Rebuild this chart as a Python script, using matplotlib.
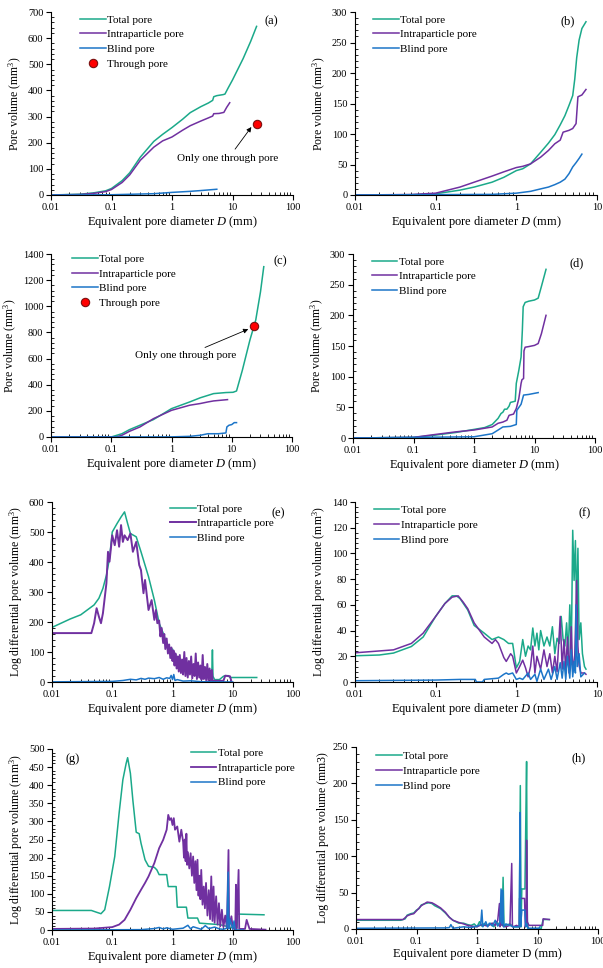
import matplotlib
matplotlib.use('Agg')
import matplotlib.pyplot as plt
from matplotlib.ticker import LogLocator, AutoMinorLocator, FuncFormatter, NullFormatter, MultipleLocator

plt.rcParams['font.family'] = ['Liberation Serif', 'DejaVu Serif']
plt.rcParams['mathtext.fontset'] = 'custom'
plt.rcParams['mathtext.rm'] = 'Liberation Serif'
plt.rcParams['mathtext.it'] = 'Liberation Serif:italic'

# colours of the three pore classes
c_total = '#1BA98A'
c_intra = '#7030A0'
c_blind = '#1C75C8'

# ---------------- (a) ----------------
a_d_total = [0.01, 0.03, 0.05, 0.08, 0.1, 0.15, 0.2, 0.3, 0.5, 0.7, 1.0, 1.5, 2.0, 3.0, 4.0, 4.7, 4.9, 5.5, 7.0, 7.5, 8.5, 10, 15, 20, 25]
a_total = [0, 3, 8, 16, 25, 55, 85, 145, 205, 232, 258, 290, 315, 338, 352, 362, 376, 380, 384, 386, 410, 440, 522, 588, 645]
a_d_intra = [0.01, 0.03, 0.05, 0.08, 0.1, 0.15, 0.2, 0.3, 0.5, 0.7, 1.0, 1.5, 2.0, 3.0, 4.0, 4.7, 4.9, 6.0, 7.2, 8.0, 9.0]
a_intra = [0, 2, 6, 13, 21, 48, 77, 133, 183, 207, 222, 248, 265, 283, 295, 302, 311, 312, 316, 335, 353]
a_d_blind = [0.01, 0.1, 0.5, 1.0, 2.0, 3.0, 5.5]
a_blind = [0, 1, 5, 10, 14, 17, 22]
a_d_through = [25]
a_through = [270]

# ---------------- (b) ----------------
b_d_total = [0.01, 0.05, 0.1, 0.2, 0.3, 0.5, 0.7, 1.0, 1.2, 1.5, 2.0, 2.5, 3.0, 3.5, 4.0, 4.5, 5.0, 5.3, 5.6, 6.0, 6.5, 7.3]
b_total = [0, 0.5, 2, 8, 13, 21, 29, 40, 43, 51, 70, 85, 99, 115, 130, 147, 163, 190, 225, 254, 273, 284]
b_d_intra = [0.01, 0.05, 0.1, 0.2, 0.3, 0.5, 0.7, 1.0, 1.2, 1.5, 2.0, 2.5, 3.0, 3.5, 3.8, 4.5, 5.0, 5.5, 5.8, 6.5, 7.3]
b_intra = [0, 0.8, 3, 13, 21, 31, 38, 45, 47, 51, 62, 73, 84, 90, 103, 106, 109, 117, 161, 164, 173]
b_d_blind = [0.01, 0.5, 1.0, 1.5, 2.0, 2.5, 3.0, 3.5, 4.0, 4.5, 5.0, 5.5, 6.0, 6.5]
b_blind = [0, 1, 3, 6, 10, 13, 17, 21, 26, 35, 46, 53, 60, 67]

# ---------------- (c) ----------------
c_d_total = [0.01, 0.1, 0.15, 0.2, 0.3, 0.5, 1.0, 2.0, 3.0, 5.0, 8.0, 10.5, 12, 15, 20, 25, 30, 34]
c_total_v = [0, 0, 25, 56, 90, 133, 217, 268, 300, 332, 340, 342, 352, 511, 741, 894, 1111, 1303]
c_d_intra = [0.01, 0.12, 0.15, 0.2, 0.3, 0.5, 1.0, 2.0, 3.0, 4.0, 5.0, 8.5]
c_intra_v = [0, 0, 13, 43, 77, 140, 204, 243, 256, 268, 276, 286]
c_d_blind = [0.01, 1.0, 2.0, 3.0, 4.0, 6.0, 8.0, 8.3, 9.0, 10.0, 11.0, 12.0]
c_blind_v = [0, 1, 5, 13, 25, 25, 31, 77, 90, 95, 110, 110]
c_d_through = [23.3]
c_through = [848]

# ---------------- (d) ----------------
d_d_total = [0.01, 0.1, 0.2, 0.5, 1.0, 1.5, 2.0, 2.5, 2.8, 3.0, 3.2, 3.5, 3.8, 4.0, 4.8, 5.0, 5.5, 6.0, 6.3, 6.5, 7.0, 8.0, 10, 11.5, 13, 15.5]
d_total = [0, 1, 4, 9, 14, 17, 22, 32, 40, 42, 47, 47, 52, 58, 60, 89, 110, 132, 176, 214, 221, 223, 225, 228, 247, 275]
d_d_intra = [0.01, 0.1, 0.2, 0.5, 1.0, 2.0, 2.5, 3.0, 3.5, 3.8, 4.5, 5.0, 5.5, 6.0, 6.2, 6.6, 6.7, 7.0, 8.0, 10, 11.5, 13, 15.5]
d_intra = [0, 1, 5, 10, 13, 18, 24, 26, 29, 37, 39, 48, 64, 89, 95, 97, 142, 148, 149, 151, 154, 170, 200]
d_d_blind = [0.01, 1.0, 2.0, 2.5, 3.0, 4.0, 5.0, 5.1, 6.0, 6.6, 8.0, 11.5]
d_blind = [0, 2, 7, 13, 18, 19, 22, 45, 55, 70, 71, 74]

# ---------------- (e) ----------------
e_d_total = [0.01, 0.02, 0.03, 0.05, 0.06, 0.07, 0.08, 0.09, 0.1, 0.12, 0.14, 0.16, 0.18, 0.2, 0.25, 0.3, 0.4, 0.5, 0.6, 0.7,
             0.8, 0.9, 0.95, 1.0, 1.05, 1.1, 1.2, 1.5, 2.0, 3.0, 4.0, 4.5, 4.6, 4.7, 5.0, 6.0, 7.0, 7.5, 8.5, 9.0, 25]
e_total = [182, 210, 224, 257, 279, 312, 356, 412, 500, 528, 550, 567, 528, 495, 484, 434, 351, 273, 196, 163,
           130, 115, 95, 110, 80, 95, 74, 58, 41, 30, 19, 35, 107, 19, 8, 8, 19, 21, 21, 15, 15]
e_d_intra = [0.01, 0.045, 0.05, 0.055, 0.06, 0.065, 0.07, 0.08, 0.085, 0.09, 0.1, 0.11, 0.12, 0.13, 0.14, 0.15, 0.16, 0.18, 0.2, 0.22,
             0.25, 0.28, 0.3, 0.33, 0.35, 0.4, 0.45, 0.5, 0.53, 0.56, 0.6, 0.63, 0.66, 0.7, 0.73, 0.76, 0.8, 0.84, 0.88, 0.92,
             0.96, 1.0, 1.04, 1.08, 1.12, 1.17, 1.22, 1.27, 1.32, 1.38, 1.44, 1.5, 1.57, 1.64, 1.71, 1.79, 1.87, 1.95, 2.04, 2.13,
             2.23, 2.33, 2.43, 2.54, 2.66, 2.78, 2.9, 3.03, 3.17, 3.31, 3.46, 3.62, 3.78, 3.95, 4.13, 4.32, 4.5, 4.65, 5.0, 7.0,
             7.5, 9.0, 9.5]
e_intra = [163, 163, 196, 246, 218, 196, 229, 329, 434, 401, 489, 456, 506, 451, 523, 467, 489, 473, 495, 434,
           467, 390, 373, 296, 340, 240, 273, 207, 240, 196, 205, 152, 180, 130, 160, 110, 145, 95, 125, 80,
           115, 70, 105, 55, 95, 45, 85, 35, 90, 30, 75, 25, 100, 20, 80, 15, 70, 25, 85, 12,
           60, 20, 95, 10, 65, 15, 55, 8, 90, 10, 50, 6, 60, 5, 45, 4, 40, 3, 4, 4,
           21, 19, 2]
e_d_blind = [0.01, 0.1, 0.15, 0.2, 0.25, 0.3, 0.35, 0.4, 0.5, 0.6, 0.7, 0.8, 0.9, 0.95, 1.0, 1.05, 1.1, 1.2, 1.5, 2.0, 3.0, 5.0, 10]
e_blind = [0.5, 2, 5, 9, 7, 12, 9, 13, 11, 15, 9, 14, 12, 22, 8, 25, 5, 8, 3, 4, 1, 0.5, 0]

# ---------------- (f) ----------------
f_d_total = [0.01, 0.02, 0.03, 0.05, 0.07, 0.1, 0.13, 0.16, 0.18, 0.2, 0.25, 0.3, 0.4, 0.5, 0.6, 0.7, 0.8, 0.9, 1.0, 1.1,
             1.2, 1.3, 1.4, 1.5, 1.6, 1.7, 1.8, 1.9, 2.0, 2.2, 2.4, 2.6, 2.8, 3.0, 3.2, 3.4, 3.6, 3.8, 4.0, 4.2,
             4.4, 4.6, 4.8, 5.0, 5.2, 5.4, 5.6, 5.8, 6.0, 6.3, 6.6, 7.0, 7.3]
f_total = [20.4, 21, 22.5, 27.6, 35, 51, 61, 67, 67, 65, 56, 44, 38, 33, 35, 33, 30, 30, 11, 16,
           33, 20, 28, 25, 42, 28, 38, 25, 40, 28, 35, 28, 43, 22, 34, 30, 51, 33, 28, 46,
           22, 60, 22, 118, 79, 110, 53, 104, 33, 46, 22, 12, 10]
f_d_intra = [0.01, 0.03, 0.05, 0.07, 0.1, 0.13, 0.16, 0.19, 0.22, 0.25, 0.3, 0.4, 0.5, 0.55, 0.6, 0.7, 0.75, 0.85, 0.9, 1.0,
             1.1, 1.2, 1.3, 1.4, 1.5, 1.6, 1.7, 1.8, 2.0, 2.2, 2.4, 2.6, 2.8, 3.0, 3.2, 3.5, 3.7, 3.9, 4.1, 4.3,
             4.5, 4.8, 5.0, 5.3, 5.6, 5.8, 6.0, 6.3, 7.0, 7.3]
f_intra = [22.7, 25, 30, 38, 51, 61, 66, 67, 62, 57, 46, 35, 30, 33, 30, 19, 16, 22, 20, 7,
           12, 17, 11, 4, 12, 28, 7, 20, 10, 25, 12, 22, 7, 20, 8, 51, 10, 33, 8, 35,
           7, 43, 8, 21, 79, 28, 13, 7, 7, 6]
f_d_blind = [0.01, 0.1, 0.2, 0.31, 0.32, 0.38, 0.4, 0.6, 0.7, 0.75, 0.8, 0.9, 1.0, 1.1, 1.2, 1.4, 1.5, 1.7, 1.8, 2.0,
             2.2, 2.5, 2.7, 3.0, 3.2, 3.5, 3.7, 3.9, 4.1, 4.3, 4.6, 4.8, 5.0, 5.2, 5.4, 5.5, 5.7, 6.0, 6.3, 7.0]
f_blind = [1, 1.5, 2, 2, 0, 0, 2, 3, 6, 7, 6, 7, 2, 3, 2, 7, 2, 6, 0.5, 10,
           2, 10, 2, 12, 2, 15, 3, 16, 2, 20, 3, 25, 4, 16, 7, 60, 12, 22, 4, 7]

# ---------------- (g) ----------------
g_d_total = [0.01, 0.045, 0.055, 0.065, 0.075, 0.09, 0.11, 0.13, 0.15, 0.17, 0.18, 0.2, 0.22, 0.25, 0.28, 0.3, 0.35, 0.4, 0.5, 0.55,
             0.6, 0.8, 0.85, 1.15, 1.2, 1.7, 1.8, 2.6, 2.8, 4.0, 6.0, 8.0, 10, 11.8, 12, 33]
g_total = [54, 54, 49, 45, 56, 120, 203, 323, 415, 460, 476, 433, 358, 270, 266, 240, 194, 176, 173, 166,
           153, 153, 120, 120, 63, 63, 33, 33, 19, 17, 15, 10, 6, 6, 44, 42]
g_d_intra = [0.01, 0.05, 0.1, 0.13, 0.16, 0.2, 0.25, 0.3, 0.35, 0.4, 0.5, 0.6, 0.7, 0.8, 0.85, 0.9, 0.95, 1.0, 1.05, 1.1,
             1.2, 1.3, 1.4, 1.5, 1.55, 1.6, 1.65, 1.7, 1.75, 1.8, 1.9, 2.0, 2.1, 2.2, 2.3, 2.4, 2.5, 2.6, 2.7, 2.8,
             2.9, 3.0, 3.15, 3.3, 3.45, 3.6, 3.8, 4.0, 4.2, 4.4, 4.6, 4.8, 5.0, 5.3, 5.6, 5.9, 6.2, 6.6, 7.0, 7.5,
             8.0, 8.5, 8.7, 9.5, 10, 11, 11.3, 11.6, 12.5, 12.8, 16, 17, 18, 19, 35]
g_intra = [3, 4, 8, 15, 28, 56, 88, 111, 130, 148, 185, 226, 249, 277, 318, 304, 309, 290, 309, 277,
           286, 244, 277, 244, 200, 250, 190, 266, 180, 215, 170, 212, 150, 203, 130, 190, 110, 194, 95, 150,
           85, 166, 70, 120, 60, 130, 40, 110, 30, 148, 25, 120, 20, 93, 15, 74, 10, 56, 8, 40,
           5, 221, 6, 38, 6, 1, 125, 3, 166, 3, 3, 28, 15, 3, 1]
g_d_blind = [0.01, 0.3, 0.5, 0.6, 0.7, 0.8, 1.0, 1.5, 1.8, 2.0, 2.2, 3.0, 3.5, 4.0, 5.0, 6.0, 7.0, 8.0, 8.4, 8.6,
             9.0, 10, 10.5, 11, 12, 15]
g_blind = [0, 1, 4, 7, 3, 6, 2, 5, 13, 3, 9, 2, 12, 4, 8, 3, 2, 5, 160, 3,
           30, 2, 25, 1, 0, 0]

# ---------------- (h) ----------------
h_d_total = [0.01, 0.055, 0.065, 0.07, 0.08, 0.09, 0.1, 0.11, 0.12, 0.14, 0.16, 0.18, 0.2, 0.25, 0.3, 0.35, 0.4, 0.5, 0.6, 0.7,
             0.8, 0.9, 1.0, 1.1, 1.2, 1.3, 1.5, 1.7, 1.9, 2.1, 2.3, 2.5, 2.6, 2.7, 2.8, 3.0, 3.5, 4.0, 5.0, 5.2,
             5.35, 5.5, 6.2, 6.4, 6.6, 6.8, 7.0, 11.5, 12.0, 12.4, 15.7]
h_total = [12, 12, 14, 19, 21, 22, 26, 28, 33, 35, 36, 35, 32, 28, 22, 16, 12, 8, 8, 6,
           5, 7, 3, 10, 4, 7, 5, 8, 3, 10, 5, 16, 5, 71, 3, 5, 7, 3, 3, 197,
           3, 55, 55, 145, 230, 3, 0.5, 0.5, 8, 13, 13]
h_d_intra = [0.01, 0.06, 0.07, 0.08, 0.09, 0.1, 0.12, 0.15, 0.18, 0.2, 0.25, 0.3, 0.35, 0.4, 0.5, 0.6, 0.7, 0.8, 1.0, 1.2,
             1.5, 1.8, 2.0, 2.2, 2.35, 2.4, 2.5, 2.7, 3.0, 3.5, 3.75, 3.85, 3.95, 4.5, 5.0, 5.05, 5.3, 6.1, 6.3, 6.5,
             6.6, 6.8, 7.2, 12.2, 12.4, 15.7]
h_intra = [13, 13, 18, 20, 21, 25, 32, 37, 36, 34, 29, 23, 16, 12, 9, 7, 5, 4, 3, 6,
           4, 8, 5, 12, 35, 3, 8, 4, 3, 5, 90, 3, 3, 5, 3, 42, 42, 42, 3, 10,
           122, 10, 5, 5, 14, 13]
h_d_blind = [0.01, 0.3, 0.35, 0.37, 0.4, 0.6, 0.8, 1.0, 1.15, 1.2, 1.25, 1.4, 1.5, 1.6, 1.8, 2.0, 2.2, 2.4, 2.5, 2.6,
             2.65, 2.75, 3.0, 4.0, 5.0, 5.15, 5.25, 5.5, 6.2, 6.4, 6.6, 7.0, 10.5, 11]
h_blind = [1, 1.5, 2, 6, 1, 3, 2, 4, 6, 26, 3, 10, 3, 8, 4, 12, 4, 10, 55, 7,
           53, 3, 7, 3, 3, 160, 3, 26, 26, 3, 7, 1, 1, 3]

xlab_it = 'Equivalent pore diameter $\\it{D}$ (mm)'
ylab_pv = 'Pore volume (mm$^{3}$)'
ylab_ld = 'Log differential pore volume (mm$^{3}$)'

W, H = 603, 968
fig = plt.figure(figsize=(W / 100, H / 100), dpi=100)


def make_ax(left, right, top, bottom):
    return fig.add_axes([left / W, (H - bottom) / H, (right - left) / W, (bottom - top) / H])


def style(ax, xmax, ymax, ystep, ylabel, xlabel, tag, tagpos, legpos):
    ax.set_xscale('log')
    ax.set_xlim(0.01, xmax)
    ax.set_ylim(0, ymax)
    ax.xaxis.set_major_locator(LogLocator(base=10, numticks=10))
    ax.xaxis.set_minor_locator(LogLocator(base=10, subs=range(2, 10), numticks=20))
    ax.xaxis.set_major_formatter(FuncFormatter(lambda v, p: '%g' % v))
    ax.xaxis.set_minor_formatter(NullFormatter())
    ax.yaxis.set_major_locator(MultipleLocator(ystep))
    ax.yaxis.set_minor_locator(AutoMinorLocator(5))
    for s in ['top', 'right']:
        ax.spines[s].set_visible(False)
    for s in ['left', 'bottom']:
        ax.spines[s].set_linewidth(0.8)
    ax.tick_params(which='major', direction='out', length=3.5, width=0.8, labelsize=7.5, pad=2)
    ax.tick_params(which='minor', direction='in', length=2.5, width=0.6)
    ax.set_ylabel(ylabel, fontsize=8.5, labelpad=3)
    ax.set_xlabel(xlabel, fontsize=9, labelpad=2)
    ax.text(tagpos[0], tagpos[1], tag, transform=ax.transAxes, fontsize=9, ha='center', va='center')
    ax.legend(loc='upper left', bbox_to_anchor=legpos, frameon=False, fontsize=8,
              handlelength=2.3, handletextpad=0.15, labelspacing=0.45, borderpad=0, borderaxespad=0)


lw = 1.1

# (a)
ax = make_ax(51, 293, 12, 195)
ax.plot(a_d_total, a_total, color=c_total, lw=lw, label='Total pore')
ax.plot(a_d_intra, a_intra, color=c_intra, lw=lw, label='Intraparticle pore')
ax.plot(a_d_blind, a_blind, color=c_blind, lw=lw, label='Blind pore')
ax.plot(a_d_through, a_through, 'o', ms=6, mfc='#FF0000', mec='#7a1010', mew=0.8, ls='none', label='Through pore')
ax.annotate('Only one through pore', xy=(20.5, 260), xytext=(8.45, 139), ha='center', va='center', fontsize=8,
            arrowprops=dict(arrowstyle='-|>', color='black', lw=0.6, mutation_scale=7, shrinkA=2, shrinkB=0))
style(ax, 100, 700, 100, ylab_pv, xlab_it, '(a)', (0.91, 0.95), (0.12, 0.985))

# (b)
ax = make_ax(355, 597, 12, 195)
ax.plot(b_d_total, b_total, color=c_total, lw=lw, label='Total pore')
ax.plot(b_d_intra, b_intra, color=c_intra, lw=lw, label='Intraparticle pore')
ax.plot(b_d_blind, b_blind, color=c_blind, lw=lw, label='Blind pore')
style(ax, 10, 300, 50, ylab_pv, xlab_it, '(b)', (0.88, 0.95), (0.075, 0.985))

# (c)
ax = make_ax(51, 292, 254, 437)
ax.plot(c_d_total, c_total_v, color=c_total, lw=lw, label='Total pore')
ax.plot(c_d_intra, c_intra_v, color=c_intra, lw=lw, label='Intraparticle pore')
ax.plot(c_d_blind, c_blind_v, color=c_blind, lw=lw, label='Blind pore')
ax.plot(c_d_through, c_through, 'o', ms=6, mfc='#FF0000', mec='#7a1010', mew=0.8, ls='none', label='Through pore')
ax.annotate('Only one through pore', xy=(18.8, 825), xytext=(1.69, 621), ha='center', va='center', fontsize=8,
            arrowprops=dict(arrowstyle='-|>', color='black', lw=0.6, mutation_scale=7, shrinkA=2, shrinkB=0))
style(ax, 100, 1400, 200, ylab_pv, xlab_it, '(c)', (0.95, 0.958), (0.087, 1.0))

# (d)
ax = make_ax(353, 595, 254, 438)
ax.plot(d_d_total, d_total, color=c_total, lw=lw, label='Total pore')
ax.plot(d_d_intra, d_intra, color=c_intra, lw=lw, label='Intraparticle pore')
ax.plot(d_d_blind, d_blind, color=c_blind, lw=lw, label='Blind pore')
style(ax, 100, 300, 50, ylab_pv, xlab_it, '(d)', (0.924, 0.95), (0.078, 0.985))

# (e)
ax = make_ax(52, 293, 502, 682)
ax.plot(e_d_total, e_total, color=c_total, lw=lw, label='Total pore')
ax.plot(e_d_intra, e_intra, color=c_intra, lw=1.4, label='Intraparticle pore')
ax.plot(e_d_blind, e_blind, color=c_blind, lw=lw, label='Blind pore')
style(ax, 100, 600, 100, ylab_ld, xlab_it, '(e)', (0.94, 0.935), (0.49, 0.99))

# (f)
ax = make_ax(355, 597, 502, 682)
ax.plot(f_d_total, f_total, color=c_total, lw=lw, label='Total pore')
ax.plot(f_d_intra, f_intra, color=c_intra, lw=lw, label='Intraparticle pore')
ax.plot(f_d_blind, f_blind, color=c_blind, lw=lw, label='Blind pore')
style(ax, 10, 140, 20, ylab_ld, xlab_it, '(f)', (0.948, 0.935), (0.078, 0.98))

# (g)
ax = make_ax(52, 293, 749, 930)
ax.plot(g_d_total, g_total, color=c_total, lw=lw, label='Total pore')
ax.plot(g_d_intra, g_intra, color=c_intra, lw=1.3, label='Intraparticle pore')
ax.plot(g_d_blind, g_blind, color=c_blind, lw=lw, label='Blind pore')
style(ax, 100, 500, 50, ylab_ld, xlab_it, '(g)', (0.087, 0.943), (0.575, 1.005))

# (h)
ax = make_ax(356, 598, 747, 929)
ax.plot(h_d_total, h_total, color=c_total, lw=lw, label='Total pore')
ax.plot(h_d_intra, h_intra, color=c_intra, lw=lw, label='Intraparticle pore')
ax.plot(h_d_blind, h_blind, color=c_blind, lw=lw, label='Blind pore')
style(ax, 100, 250, 50, 'Log differential pore volume (mm3)', 'Equivalent pore diameter D (mm)',
      '(h)', (0.92, 0.936), (0.083, 0.975))

fig.savefig('out.png', dpi=100)
